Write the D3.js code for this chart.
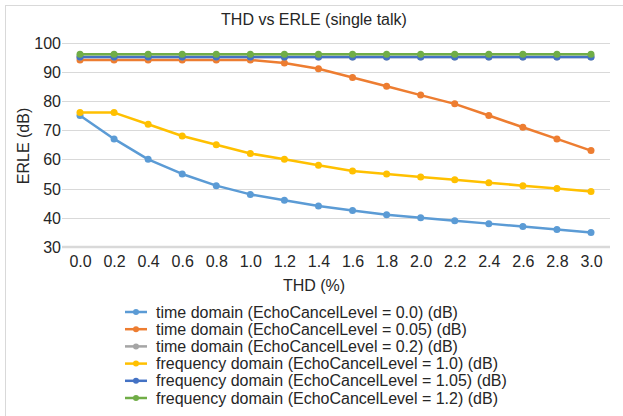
<!DOCTYPE html>
<html>
<head>
<meta charset="utf-8">
<script src="https://cdn.jsdelivr.net/npm/d3@7"></script>
<style>
  html, body { margin: 0; padding: 0; background: #fff; }
  svg { display: block; font-family: "Liberation Sans", Arial, sans-serif; }
</style>
</head>
<body>
<svg id="chart" width="623" height="416"></svg>
<script>
const categories = ["0.0","0.2","0.4","0.6","0.8","1.0","1.2","1.4","1.6","1.8","2.0","2.2","2.4","2.6","2.8","3.0"];
const seriesNames = [
  "time domain (EchoCancelLevel = 0.0) (dB)",
  "time domain (EchoCancelLevel = 0.05) (dB)",
  "time domain (EchoCancelLevel = 0.2) (dB)",
  "frequency domain (EchoCancelLevel = 1.0) (dB)",
  "frequency domain (EchoCancelLevel = 1.05) (dB)",
  "frequency domain (EchoCancelLevel = 1.2) (dB)"
];
const timeDomain00  = [75, 67, 60, 55, 51, 48, 46, 44, 42.5, 41, 40, 39, 38, 37, 36, 35];
const timeDomain005 = [94, 94, 94, 94, 94, 94, 93, 91, 88, 85, 82, 79, 75, 71, 67, 63];
const timeDomain02  = [95, 95, 95, 95, 95, 95, 95, 95, 95, 95, 95, 95, 95, 95, 95, 95];
const freqDomain10  = [76, 76, 72, 68, 65, 62, 60, 58, 56, 55, 54, 53, 52, 51, 50, 49];
const freqDomain105 = [95, 95, 95, 95, 95, 95, 95, 95, 95, 95, 95, 95, 95, 95, 95, 95];
const freqDomain12  = [96, 96, 96, 96, 96, 96, 96, 96, 96, 96, 96, 96, 96, 96, 96, 96];
const yTicks = [30, 40, 50, 60, 70, 80, 90, 100];
const colors = ["#5b9bd5", "#ed7d31", "#a5a5a5", "#ffc000", "#4472c4", "#70ad47"];

const seriesValues = [timeDomain00, timeDomain005, timeDomain02, freqDomain10, freqDomain105, freqDomain12];

const svg = d3.select("#chart");
const textColor = "#262626";

// outer frame (top & left visible)
svg.append("rect").attr("x", 5.5).attr("y", 5.5).attr("width", 640).attr("height", 440)
  .attr("fill", "none").attr("stroke", "#d9d9d9").attr("stroke-width", 1);

const plot = { left: 62, right: 610, top: 42.5, bottom: 247 };

const x = d3.scalePoint().domain(categories).range([80, 591]);
const y = d3.scaleLinear().domain([30, 100]).range([plot.bottom, plot.top]);

// gridlines
svg.append("g").selectAll("line").data(yTicks.filter(d => d !== 30)).join("line")
  .attr("x1", plot.left).attr("x2", plot.right)
  .attr("y1", d => Math.round(y(d)) + 0.5).attr("y2", d => Math.round(y(d)) + 0.5)
  .attr("stroke", "#d9d9d9").attr("stroke-width", 1);
// baseline
svg.append("line").attr("x1", plot.left).attr("x2", plot.right)
  .attr("y1", y(30)).attr("y2", y(30))
  .attr("stroke", "#d9d9d9").attr("stroke-width", 2.5);

// y axis labels
const yAxis = d3.axisLeft(y).tickValues(yTicks).tickSize(0).tickPadding(0);
const gy = svg.append("g").attr("transform", `translate(${plot.left - 1},0)`).call(yAxis);
gy.select(".domain").remove();
gy.selectAll("text").attr("font-size", 16).attr("fill", textColor)
  .attr("font-family", "'Liberation Sans', Arial, sans-serif").attr("dy", "0.35em");

// x axis labels
const xAxis = d3.axisBottom(x).tickSize(0).tickPadding(0);
const gx = svg.append("g").attr("transform", `translate(0,${plot.bottom})`).call(xAxis);
gx.select(".domain").remove();
gx.selectAll("text").attr("font-size", 16).attr("fill", textColor)
  .attr("font-family", "'Liberation Sans', Arial, sans-serif").attr("y", 20).attr("dy", 0);

// series
const line = d3.line().x((d, i) => x(categories[i])).y(d => y(d));
seriesValues.forEach((vals, s) => {
  const g = svg.append("g");
  g.append("path").datum(vals).attr("d", line)
    .attr("fill", "none").attr("stroke", colors[s]).attr("stroke-width", 2.5)
    .attr("stroke-linejoin", "round");
  g.selectAll("circle").data(vals).join("circle")
    .attr("cx", (d, i) => x(categories[i])).attr("cy", d => y(d)).attr("r", 3.5)
    .attr("fill", colors[s]);
});

// titles
svg.append("text").attr("x", 314).attr("y", 25).attr("text-anchor", "middle")
  .attr("font-size", 16).attr("fill", textColor).text("THD vs ERLE (single talk)");
svg.append("text").attr("x", 314).attr("y", 291).attr("text-anchor", "middle")
  .attr("font-size", 16).attr("fill", textColor).text("THD (%)");
svg.append("text").attr("transform", `translate(29,146) rotate(-90)`).attr("text-anchor", "middle")
  .attr("font-size", 16).attr("fill", textColor).text("ERLE (dB)");

// legend
const legendRowY = d3.scaleLinear().domain([0, 5]).range([312, 398]);
const lg = svg.append("g");
seriesNames.forEach((name, s) => {
  const yy = legendRowY(s);
  lg.append("line").attr("x1", 125).attr("x2", 147).attr("y1", yy).attr("y2", yy)
    .attr("stroke", colors[s]).attr("stroke-width", 2.5);
  lg.append("circle").attr("cx", 136).attr("cy", yy).attr("r", 3).attr("fill", colors[s]);
  lg.append("text").attr("x", 156).attr("y", yy).attr("dy", "0.35em")
    .attr("font-size", 16).attr("fill", textColor).text(name);
});
</script>
</body>
</html>
